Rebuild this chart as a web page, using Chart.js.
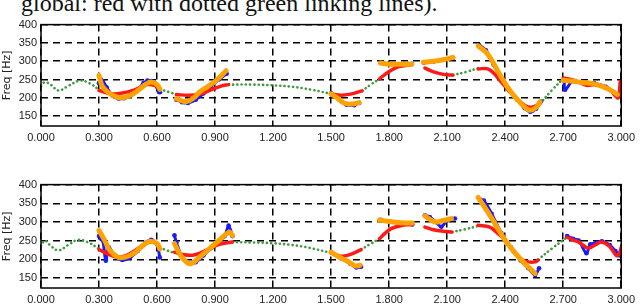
<!DOCTYPE html>
<html>
<head>
<meta charset="utf-8">
<script src="https://cdn.jsdelivr.net/npm/chart.js@4.4.1/dist/chart.umd.min.js"></script>
<style>
    html, body { margin: 0; padding: 0; background: #fff; width: 640px; height: 305px; overflow: hidden; }
    body { position: relative; }
    #caption {
        position: absolute; left: 21px; top: -8px;
        font: 24px "Liberation Serif", "Times New Roman", serif;
        line-height: 23px; white-space: nowrap; color: #111;
    }
    canvas { position: absolute; left: 0; }
    #pitch-top { top: 14px; }
    #pitch-bottom { top: 174px; }
</style>
</head>
<body>
<div id="caption">global: red with dotted green linking lines).</div>
<canvas id="pitch-top" width="640" height="130"></canvas>
<canvas id="pitch-bottom" width="640" height="131"></canvas>
<script>
// axis ticks
const xTickValues = [0, 0.3, 0.6, 0.9, 1.2, 1.5, 1.8, 2.1, 2.4, 2.7, 3.0];
const yTickValues = [150, 200, 250, 300, 350, 400];

// top panel: time [s] / freq [Hz], one inner array per voiced segment
const topLinkT = [[0, 0.02, 0.05, 0.09, 0.14, 0.2, 0.25, 0.3], [0.615, 0.66, 0.7], [0.97, 1.1, 1.2, 1.3, 1.4, 1.5], [1.66, 1.705, 1.75], [2.13, 2.2, 2.26], [2.58, 2.64, 2.7]];
const topLinkF = [[232, 243, 236, 220, 232, 247, 240, 222], [223, 216, 209], [236, 236, 234, 230, 222, 211], [219, 236, 252], [262, 271, 281], [184, 220, 252]];

const topRedT = [[0.3, 0.36, 0.42, 0.48, 0.55, 0.59, 0.615], [0.7, 0.76, 0.82, 0.88, 0.93, 0.97], [1.5, 1.55, 1.6, 1.66], [1.75, 1.8, 1.85, 1.92], [1.985, 2.03, 2.08, 2.13], [2.26, 2.31, 2.345, 2.38, 2.45, 2.5, 2.535, 2.58], [2.7, 2.74, 2.78, 2.82, 2.86, 2.9, 2.94, 2.97, 2.985, 2.995]];
const topRedF = [[220, 211, 213, 221, 236, 233, 223], [209, 207, 210, 222, 232, 236], [211, 207, 210, 219], [252, 272, 285, 291], [281, 271, 264, 262], [279, 279, 265, 243, 202, 180, 174, 184], [254, 250, 243, 234, 236, 234, 224, 205, 200, 245]];

const topOrangeT = [[0.3, 0.32, 0.37, 0.42, 0.476, 0.545, 0.57, 0.6, 0.615], [0.7, 0.75, 0.79, 0.82, 0.86, 0.905, 0.957], [1.5, 1.53, 1.57, 1.61, 1.645], [1.755, 1.8, 1.85, 1.917], [1.977, 2.03, 2.08, 2.13], [2.26, 2.31, 2.38, 2.43, 2.483, 2.526, 2.56, 2.58], [2.7, 2.75, 2.8, 2.86, 2.93, 2.98]];
const topOrangeF = [[261, 229, 207, 200, 211, 238, 243, 236, 223], [198, 189, 200, 216, 230, 247, 274], [211, 200, 185, 183, 187], [295, 292, 292, 292], [297, 300, 304, 310], [342, 319, 256, 216, 184, 166, 174, 189], [248, 245, 242, 238, 225, 209]];

const topBlueT = [[0.3, 0.31, 0.32, 0.34, 0.37, 0.4, 0.43, 0.46, 0.5, 0.53, 0.55, 0.57, 0.59, 0.61, 0.615], [0.7, 0.73, 0.76, 0.8, 0.84, 0.88, 0.92, 0.96], [1.5, 1.54, 1.58, 1.62, 1.645], [1.76, 1.8, 1.85, 1.9, 1.917], [1.98, 2.03, 2.08, 2.13], [2.265, 2.3, 2.34, 2.38, 2.42, 2.46, 2.5, 2.53, 2.56, 2.585], [2.705, 2.71, 2.75, 2.8, 2.86, 2.92, 2.96, 2.99, 3.0]];
const topBlueF = [[240, 250, 246, 228, 206, 198, 199, 206, 222, 240, 247, 246, 236, 216, 215], [195, 188, 186, 195, 212, 232, 250, 266], [212, 196, 181, 180, 186], [296, 293, 291, 292, 293], [296, 299, 304, 309], [344, 330, 290, 252, 220, 196, 172, 162, 170, 190], [250, 222, 246, 241, 240, 230, 216, 205, 210]];

// bottom panel
const botLinkT = [[0, 0.02, 0.05, 0.09, 0.14, 0.19, 0.24, 0.3], [0.614, 0.65, 0.69], [0.99, 1.1, 1.2, 1.3, 1.385, 1.5], [1.655, 1.7, 1.75], [2.125, 2.19, 2.26], [2.57, 2.64, 2.72]];
const botLinkF = [[235, 250, 236, 224, 238, 252, 246, 228], [231, 224, 217], [246, 245, 243, 238, 231, 217], [226, 240, 255], [273, 280, 289], [199, 228, 259]];

const botRedT = [[0.3, 0.35, 0.39, 0.44, 0.5, 0.56, 0.6, 0.614], [0.69, 0.74, 0.785, 0.82, 0.87, 0.922, 0.99], [1.5, 1.53, 1.56, 1.61, 1.655], [1.75, 1.78, 1.81, 1.86, 1.92], [1.985, 2.03, 2.08, 2.125], [2.26, 2.32, 2.36, 2.4, 2.44, 2.48, 2.52, 2.555, 2.57], [2.72, 2.75, 2.78, 2.83, 2.87, 2.9, 2.94, 2.975, 2.99, 3.0]];
const botRedF = [[226, 213, 206, 210, 228, 246, 242, 231], [219, 212, 211, 216, 228, 240, 246], [217, 211, 208, 215, 226], [255, 270, 282, 290, 293], [286, 279, 275, 273], [291, 286, 270, 251, 222, 200, 193, 193, 198], [259, 252, 246, 230, 240, 246, 234, 210, 216, 232]];

const botOrangeT = [[0.3, 0.33, 0.356, 0.408, 0.476, 0.53, 0.562, 0.6, 0.614], [0.69, 0.72, 0.751, 0.777, 0.82, 0.87, 0.922, 0.973, 0.99], [1.5, 1.545, 1.591, 1.625, 1.65], [1.75, 1.8, 1.86, 1.92], [1.985, 2.036, 2.08, 2.122], [2.26, 2.33, 2.4, 2.48, 2.555]];
const botOrangeF = [[277, 250, 224, 204, 215, 238, 248, 242, 228], [242, 212, 193, 188, 206, 228, 251, 273, 264], [219, 205, 193, 182, 184], [305, 301, 298, 297], [316, 300, 304, 309], [366, 310, 251, 200, 162]];

const botBlueT = [[0.3, 0.31, 0.32, 0.335, 0.35, 0.38, 0.42, 0.46, 0.5, 0.54, 0.57, 0.6, 0.614], [0.69, 0.7, 0.73, 0.76, 0.8, 0.84, 0.88, 0.92, 0.95, 0.97, 0.99], [1.5, 1.55, 1.6, 1.63, 1.655], [1.755, 1.8, 1.86, 1.92], [1.985, 2.01, 2.04, 2.07, 2.1, 2.14], [2.27, 2.29, 2.33, 2.38, 2.43, 2.48, 2.52, 2.555, 2.575], [2.72, 2.75, 2.78, 2.82, 2.84, 2.87, 2.9, 2.94, 2.97, 2.99, 3.0]];
const botBlueF = [[262, 255, 250, 196, 232, 210, 198, 205, 222, 244, 252, 240, 205], [264, 245, 205, 190, 192, 210, 230, 248, 262, 290, 262], [218, 203, 188, 178, 180], [306, 302, 296, 293], [318, 313, 300, 287, 304, 309], [360, 357, 322, 270, 232, 197, 176, 158, 176], [262, 255, 250, 216, 240, 244, 248, 238, 222, 210, 214]];

const tickFont = { family: "'Liberation Sans', 'DejaVu Sans', sans-serif", size: 11 };

// flatten segments into {x, y} points, with a null between segments so the line breaks
function toPoints(segT, segF) {
    const pts = [];
    segT.forEach((ts, s) => {
        if (s > 0) {
            pts.push({ x: (segT[s - 1][segT[s - 1].length - 1] + ts[0]) / 2, y: null });
        }
        ts.forEach((t, i) => pts.push({ x: t, y: segF[s][i] }));
    });
    return pts;
}

const frameBox = {
    id: 'frameBox',
    afterDraw(chart) {
        const { ctx, chartArea: a } = chart;
        ctx.save();
        ctx.strokeStyle = '#000';
        ctx.lineWidth = 1.5;
        ctx.setLineDash([]);
        ctx.strokeRect(a.left, a.top, a.right - a.left, a.bottom - a.top);
        ctx.restore();
    },
};

function makePitchChart(canvasId, padTop, axisHeight, series) {
    const datasets = [
        {
            label: 'local',
            data: toPoints(series.orangeT, series.orangeF),
            borderColor: '#ffa200',
            borderWidth: 5,
            borderCapStyle: 'round',
            tension: 0.4,
            pointRadius: 0,
            order: 0,
        },
        {
            label: 'global',
            data: toPoints(series.redT, series.redF),
            borderColor: '#ff1a1a',
            borderWidth: 3.5,
            borderCapStyle: 'round',
            tension: 0.4,
            pointRadius: 0,
            order: 1,
        },
        {
            label: 'raw',
            data: toPoints(series.blueT, series.blueF),
            borderColor: '#1a1aff',
            borderWidth: 3,
            tension: 0.3,
            pointRadius: 2.3,
            pointBorderWidth: 0,
            pointBackgroundColor: '#1a1aff',
            order: 2,
        },
        {
            label: 'link',
            data: toPoints(series.linkT, series.linkF),
            borderColor: '#3f9c3f',
            borderWidth: 2.6,
            borderDash: [0.1, 4.2],
            borderCapStyle: 'round',
            tension: 0.4,
            pointRadius: 0,
            order: 3,
        },
    ];

    return new Chart(document.getElementById(canvasId), {
        type: 'line',
        data: { datasets },
        plugins: [frameBox],
        options: {
            responsive: false,
            animation: false,
            devicePixelRatio: 1,
            layout: { padding: { top: padTop, right: 16, left: 0, bottom: 0 } },
            plugins: { legend: { display: false }, tooltip: { enabled: false } },
            scales: {
                x: {
                    type: 'linear',
                    min: 0,
                    max: 3,
                    afterBuildTicks(scale) {
                        scale.ticks = xTickValues.map((value) => ({ value }));
                    },
                    afterFit(scale) {
                        scale.height = axisHeight;
                    },
                    ticks: {
                        font: tickFont,
                        color: '#222',
                        padding: 5,
                        maxRotation: 0,
                        autoSkip: false,
                        callback: (value) => Number(value).toFixed(3),
                    },
                    grid: { color: '#000', lineWidth: 1.5, drawTicks: false },
                    border: { display: false, dash: [7, 5] },
                },
                y: {
                    min: 123,
                    max: 400,
                    afterBuildTicks(scale) {
                        scale.ticks = yTickValues.map((value) => ({ value }));
                    },
                    afterFit(scale) {
                        scale.width = 41;
                    },
                    ticks: { font: tickFont, color: '#222', padding: 4 },
                    grid: { color: '#000', lineWidth: 1.5, drawTicks: false },
                    border: { display: false, dash: [7, 5] },
                    title: {
                        display: true,
                        text: 'Freq [Hz]',
                        color: '#222',
                        font: { family: "'DejaVu Sans', sans-serif", size: 11 },
                        padding: { top: 1, bottom: 0 },
                    },
                },
            },
        },
    });
}

makePitchChart('pitch-top', 9, 18, {
    linkT: topLinkT, linkF: topLinkF,
    redT: topRedT, redF: topRedF,
    orangeT: topOrangeT, orangeF: topOrangeF,
    blueT: topBlueT, blueF: topBlueF,
});

makePitchChart('pitch-bottom', 10, 17, {
    linkT: botLinkT, linkF: botLinkF,
    redT: botRedT, redF: botRedF,
    orangeT: botOrangeT, orangeF: botOrangeF,
    blueT: botBlueT, blueF: botBlueF,
});
</script>
</body>
</html>
